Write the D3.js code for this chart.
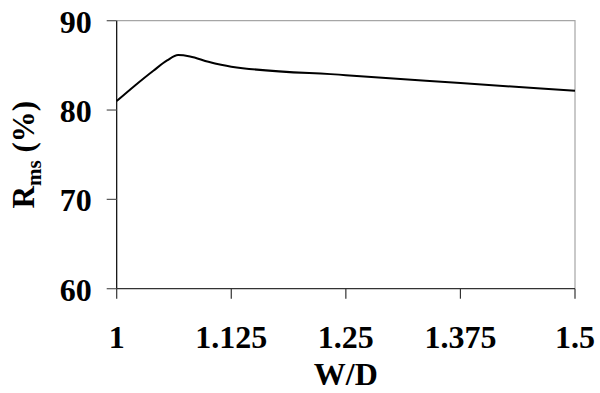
<!DOCTYPE html>
<html>
<head>
<meta charset="utf-8">
<script src="https://cdn.jsdelivr.net/npm/d3@7"></script>
<style>
  body { margin: 0; background: #fff; }
  text { font-family: "Liberation Serif", "Times New Roman", serif; font-weight: bold; fill: #000; }
</style>
</head>
<body>
<svg id="chart" width="600" height="393"></svg>
<script>
// W/D values and R_ms (%)
const ratios = [1, 1.02, 1.04, 1.055, 1.067, 1.08, 1.1, 1.125, 1.25, 1.375, 1.5];
const rms = [81.0, 82.75, 84.4, 85.55, 86.15, 86.0, 85.4, 84.85, 83.9, 83.02, 82.15];
const xTicks = [1, 1.125, 1.25, 1.375, 1.5];
const xTickLabels = ["1", "1.125", "1.25", "1.375", "1.5"];
const yTicks = [60, 70, 80, 90];

const margin = { top: 20.7, right: 25, bottom: 104.3, left: 116.7 };
const width = 600 - margin.left - margin.right;
const height = 393 - margin.top - margin.bottom;

const svg = d3.select("#chart");
const g = svg.append("g")
    .attr("transform", `translate(${margin.left},${margin.top})`);

const x = d3.scaleLinear().domain([1, 1.5]).range([0, width]);
const y = d3.scaleLinear().domain([60, 90]).range([height, 0]);

// plot frame (top and right in grey)
g.append("path")
    .attr("d", `M0,0H${width}V${height}`)
    .attr("fill", "none")
    .attr("stroke", "#a6a6a6")
    .attr("stroke-width", 1.2);

// y axis
g.append("line")
    .attr("x1", 0).attr("x2", 0).attr("y1", 0).attr("y2", height)
    .attr("stroke", "#000").attr("stroke-width", 1.2);
g.selectAll(".y-tick")
    .data(yTicks)
    .join("line")
    .attr("class", "y-tick")
    .attr("x1", -10).attr("x2", 0)
    .attr("y1", d => y(d)).attr("y2", d => y(d))
    .attr("stroke", "#555").attr("stroke-width", 1.2);
g.selectAll(".y-label")
    .data(yTicks)
    .join("text")
    .attr("class", "y-label")
    .attr("x", -25)
    .attr("y", d => y(d) + 12)
    .attr("text-anchor", "end")
    .attr("font-size", 32)
    .text(d => d);

// x axis
g.append("line")
    .attr("x1", 0).attr("x2", width).attr("y1", height).attr("y2", height)
    .attr("stroke", "#333").attr("stroke-width", 1.2);
g.selectAll(".x-tick")
    .data(xTicks)
    .join("line")
    .attr("class", "x-tick")
    .attr("x1", d => x(d)).attr("x2", d => x(d))
    .attr("y1", height).attr("y2", height + 10)
    .attr("stroke", "#333").attr("stroke-width", 1.2);
g.selectAll(".x-label")
    .data(xTicks)
    .join("text")
    .attr("class", "x-label")
    .attr("x", d => x(d))
    .attr("y", height + 59)
    .attr("text-anchor", "middle")
    .attr("font-size", 32)
    .text((d, i) => xTickLabels[i]);

g.append("text")
    .attr("x", width / 2)
    .attr("y", height + 96)
    .attr("text-anchor", "middle")
    .attr("font-size", 32)
    .text("W/D");

// y title
const yTitle = svg.append("text")
    .attr("transform", `translate(34, ${margin.top + height / 2}) rotate(-90)`)
    .attr("text-anchor", "middle")
    .attr("font-size", 31);
yTitle.append("tspan").text("R");
yTitle.append("tspan").attr("font-size", 21).attr("dy", 7).text("ms");
yTitle.append("tspan").attr("dy", -7).text(" (%)");

// curve
const line = d3.line()
    .x(d => x(d[0]))
    .y(d => y(d[1]))
    .curve(d3.curveMonotoneX);

g.append("path")
    .datum(ratios.map((r, i) => [r, rms[i]]))
    .attr("d", line)
    .attr("fill", "none")
    .attr("stroke", "#000")
    .attr("stroke-width", 2);
</script>
</body>
</html>
